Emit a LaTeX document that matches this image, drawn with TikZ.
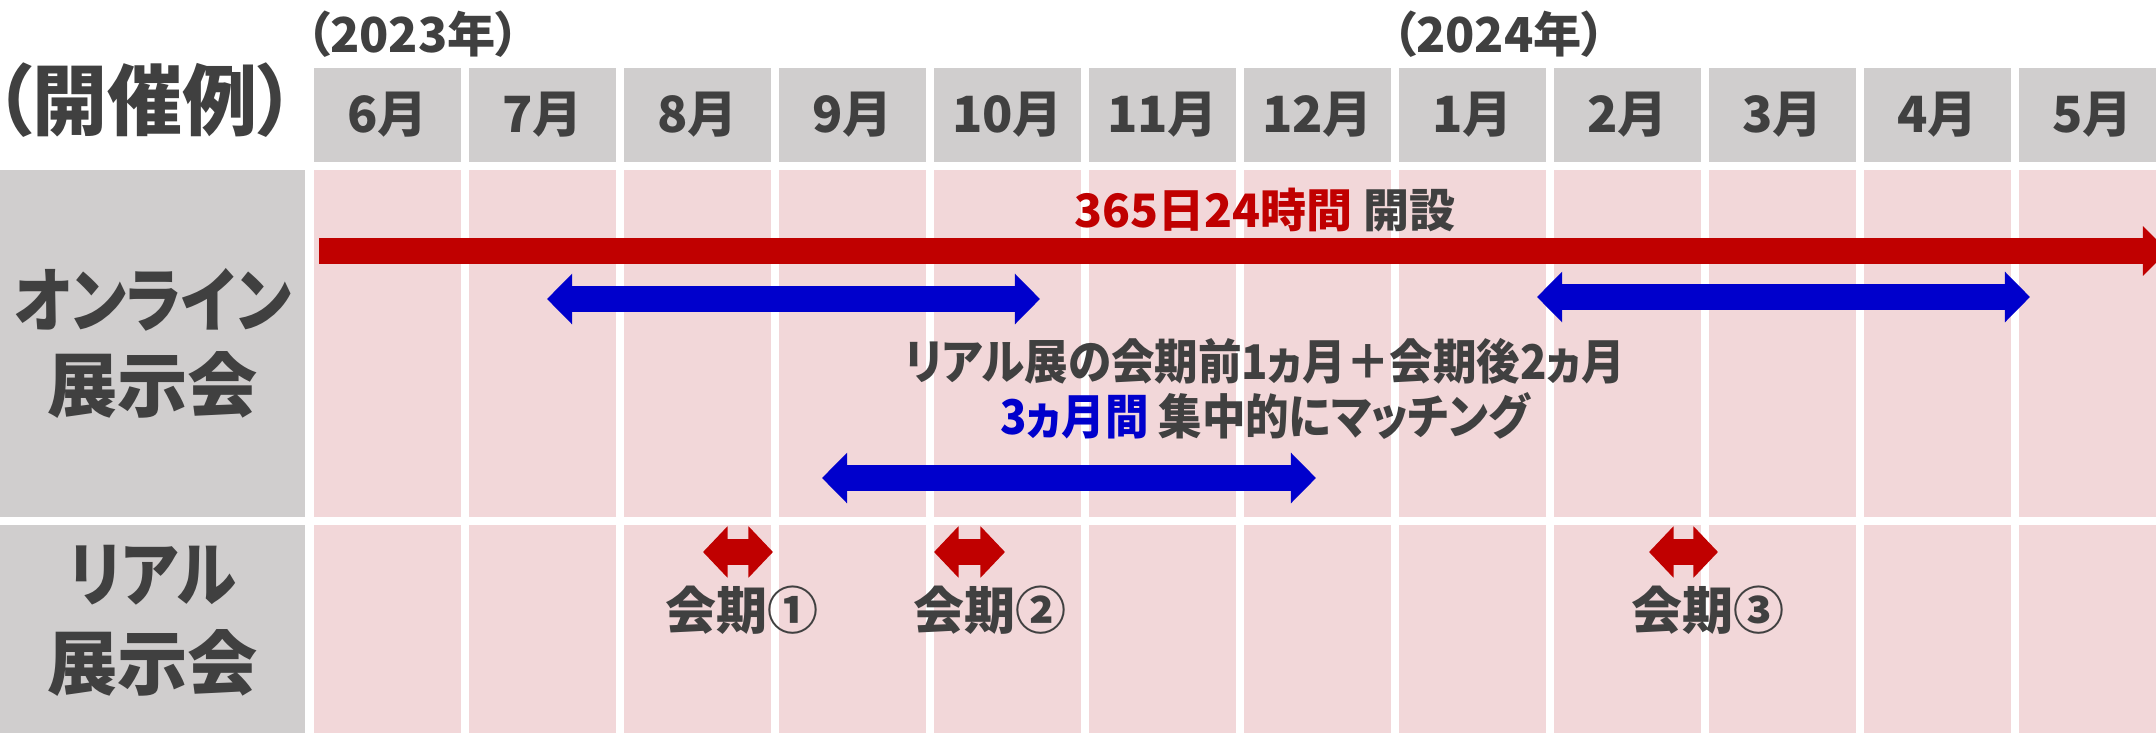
\documentclass[tikz,border=0pt]{standalone}
\usepackage{fontspec}
\usepackage{graphicx}
\usetikzlibrary{arrows.meta}
\newfontfamily\jp[RawFeature=+palt]{Noto Sans CJK JP}
\newfontfamily\jpn[RawFeature=+palt,FakeStretch=0.91]{Noto Sans CJK JP}
\definecolor{txt}{HTML}{404040}
\definecolor{cellgray}{HTML}{D0CECE}
\definecolor{cellpink}{HTML}{F2D7D9}
\definecolor{myred}{HTML}{C00000}
\definecolor{myblue}{HTML}{0000CC}
\tikzset{
  hdrcell/.style={fill=cellgray},
  pinkcell/.style={fill=cellpink},
  lbl/.style={text=txt, inner sep=0pt, align=center},
  bluespan/.style={draw=myblue, line width=0.25cm,
    {Triangle[length=0.25cm,width=0.49cm]}-{Triangle[length=0.25cm,width=0.49cm]}},
  redspan/.style={draw=myred, line width=0.26cm,
    {Triangle[length=0.245cm,width=0.50cm]}-{Triangle[length=0.245cm,width=0.50cm]}},
  redlong/.style={draw=myred, line width=0.26cm,
    -{Triangle[length=0.25cm,width=0.48cm]}},
}
\begin{document}
\begin{tikzpicture}[x=0.01cm,y=-0.01cm]
\useasboundingbox (0,0) rectangle (2156,733);
\fill[white] (0,0) rectangle (2156,733);
% label column
\fill[hdrcell] (0,170) rectangle (305,517);
\fill[hdrcell] (0,525) rectangle (305,740);
% month columns
\foreach \m [count=\i from 0] in {6,7,8,9,10,11,12,1,2,3,4,5} {
  \fill[hdrcell] ({314+155*\i},68) rectangle ++(147,94);
  \fill[pinkcell] ({314+155*\i},170) rectangle ++(147,347);
  \fill[pinkcell] ({314+155*\i},525) rectangle ++(147,215);
  \node[lbl, font={\jp\bfseries\fontsize{14.2}{16}\selectfont}] (m\i) at ({387.5+155*\i},115) {\m 月};
}
% titles
\node[lbl, font={\jp\bfseries\fontsize{22}{26}\selectfont}] (title) at (145,100) {\scalebox{0.97}[1]{（開催例）}};
\node[lbl, font={\jp\bfseries\fontsize{13.7}{16}\selectfont}] (y2023) at (413,34) {（2023年）};
\node[lbl, font={\jp\bfseries\fontsize{13.7}{16}\selectfont}] (y2024) at (1499,34) {（2024年）};
% row labels
\node[lbl, font={\jp\bfseries\fontsize{20}{24.2}\selectfont}] (online) at (152.5,343.5) {\scalebox{0.86}[1]{オンライン}\\展示会};
\node[lbl, font={\jp\bfseries\fontsize{20}{25.3}\selectfont}] (real) at (152.5,620.5) {\scalebox{0.86}[1]{リアル}\\展示会};
% texts
\node[lbl, font={\jp\bfseries\fontsize{13.1}{16}\selectfont}] (always) at (1265,210) {{\color{myred}365日24時間} 開設};
\node[lbl, font={\jpn\bfseries\fontsize{13.6}{15.6}\selectfont}] (focus) at (1265,388.5) {リアル展の会期前1ヵ月＋会期後2ヵ月\\{\color{myblue}3ヵ月間} 集中的にマッチング};
\node[lbl, font={\jp\bfseries\fontsize{14.5}{16}\selectfont}] (s1) at (742,610) {会期①};
\node[lbl, font={\jp\bfseries\fontsize{14.5}{16}\selectfont}] (s2) at (990,610) {会期②};
\node[lbl, font={\jp\bfseries\fontsize{14.5}{16}\selectfont}] (s3) at (1708,610) {会期③};
% arrow ends
\coordinate (rl0) at (319,251);
\coordinate (rl1) at (2168,251);
\coordinate (a0) at (547,299);
\coordinate (a1) at (1040,299);
\coordinate (b0) at (1537,297);
\coordinate (b1) at (2030,297);
\coordinate (c0) at (822,478);
\coordinate (c1) at (1316,478);
\coordinate (r10) at (703,552);
\coordinate (r11) at (773,552);
\coordinate (r20) at (934,552);
\coordinate (r21) at (1005,552);
\coordinate (r30) at (1649,552);
\coordinate (r31) at (1718,552);
\draw[redlong] (rl0) -- (rl1);
\draw[bluespan] (a0) -- (a1);
\draw[bluespan] (b0) -- (b1);
\draw[bluespan] (c0) -- (c1);
\draw[redspan] (r10) -- (r11);
\draw[redspan] (r20) -- (r21);
\draw[redspan] (r30) -- (r31);
\end{tikzpicture}
\end{document}
